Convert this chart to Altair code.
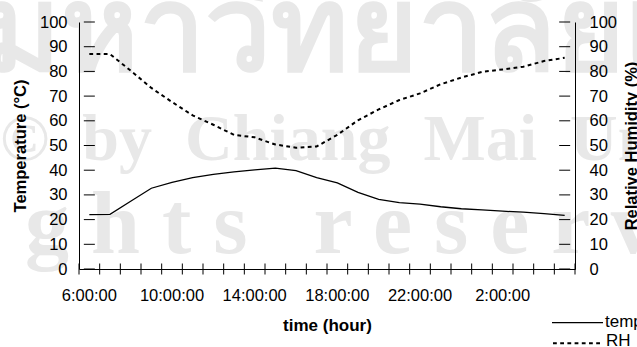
import altair as alt
import pandas as pd

# Hourly readings over one day, 6:00 to 5:00 the next morning
hours = ["6:00:00", "7:00:00", "8:00:00", "9:00:00", "10:00:00", "11:00:00",
         "12:00:00", "13:00:00", "14:00:00", "15:00:00", "16:00:00", "17:00:00",
         "18:00:00", "19:00:00", "20:00:00", "21:00:00", "22:00:00", "23:00:00",
         "0:00:00", "1:00:00", "2:00:00", "3:00:00", "4:00:00", "5:00:00"]
temperature = [22.0, 22.1, 27.4, 32.7, 35.1, 37.0, 38.3, 39.3, 40.1, 40.8, 39.8, 37.0,
               34.9, 31.0, 28.2, 26.9, 26.3, 25.2, 24.4, 23.9, 23.4, 23.0, 22.4, 21.7]
rh = [87.0, 87.0, 80.3, 73.3, 67.6, 62.2, 58.4, 54.3, 53.3, 50.4, 49.1, 49.6,
      54.3, 60.2, 64.6, 68.4, 71.1, 74.8, 77.5, 79.8, 80.8, 81.9, 84.2, 85.5]
label_hours = ["6:00:00", "10:00:00", "14:00:00", "18:00:00", "22:00:00", "2:00:00"]
y_ticks = [0, 10, 20, 30, 40, 50, 60, 70, 80, 90, 100]
series_names = ["temperature", "RH"]

NB = "\u00a0"  # non-breaking space keeps the wide watermark spacing
watermark_lines = ["มหาวิทยาลัยเชียงใหม่",
                   "©" + NB * 2 + "by" + NB * 2 + "Chiang" + NB * 2 + "Mai" + NB * 2 + "University",
                   "g h t s" + NB * 3 + "r e s e r v e d"]

df = pd.DataFrame({"hour": hours, "temperature": temperature, "rh": rh})
FONT = "Liberation Sans"
INK = "#000000"
WM = "#e8e8e8"

xscale = alt.Scale(domain=hours, paddingInner=0, paddingOuter=0)
yscale = alt.Scale(domain=[0, 100], nice=False)

x_axis = alt.Axis(values=label_hours, ticks=False, grid=False, domainColor=INK,
                  labelAngle=0, labelFont=FONT, labelFontSize=16.5, labelColor=INK,
                  labelBaseline="alphabetic", labelPadding=31,
                  title="time (hour)", titleFont=FONT, titleFontSize=17,
                  titleFontWeight="bold", titleColor=INK,
                  titleBaseline="alphabetic", titleY=61, zindex=1)


def xenc(band=0.5):
    return alt.X("hour:N", sort=hours, scale=xscale, axis=x_axis, bandPosition=band)


# Background watermark
wm_base = alt.Chart(pd.DataFrame({"k": [0]}))
wm1 = wm_base.mark_text(text=watermark_lines[0], font="Noto Sans", fontSize=118,
                        fontWeight="bold", color=WM, align="left",
                        baseline="alphabetic").encode(x=alt.value(-96), y=alt.value(48))
wm2 = wm_base.mark_text(text=watermark_lines[1], font="Liberation Serif", fontSize=66,
                        fontWeight="bold", color=WM, align="left",
                        baseline="alphabetic").encode(x=alt.value(-79), y=alt.value(138))
wm3 = wm_base.mark_text(text=watermark_lines[2], font="Liberation Serif", fontSize=88,
                        fontWeight="bold", color=WM, align="left",
                        baseline="alphabetic").encode(x=alt.value(-54), y=alt.value(231))

temp_line = alt.Chart(df).mark_line(color=INK, strokeWidth=1.3).encode(
    x=xenc(),
    y=alt.Y("temperature:Q", scale=yscale,
            axis=alt.Axis(orient="left", values=y_ticks, ticks=False, grid=False,
                          domainColor=INK, labelFont=FONT, labelFontSize=16.5,
                          labelColor=INK, labelPadding=12,
                          title="Temperature (°C)", titleFont=FONT, titleFontSize=16.5,
                          titleFontWeight="bold", titleColor=INK, titleAngle=270,
                          titleBaseline="alphabetic", titleAlign="center",
                          titleX=-54, titleY=123.5, zindex=1)),
)

rh_line = alt.Chart(df).mark_line(color=INK, strokeWidth=2, strokeDash=[3.8, 3.4]).encode(
    x=xenc(),
    y=alt.Y("rh:Q", scale=yscale,
            axis=alt.Axis(orient="right", values=y_ticks, ticks=False, grid=False,
                          domainColor=INK, labelFont=FONT, labelFontSize=16.5,
                          labelColor=INK, labelPadding=14,
                          title="Relative Humidity (%)", titleFont=FONT,
                          titleFontSize=16.5, titleFontWeight="bold", titleColor=INK,
                          titleAngle=270, titleBaseline="alphabetic",
                          titleAlign="center", titleX=61, titleY=123.5, zindex=1)),
)

# Tick marks crossing the axis lines
tick_style = dict(color=INK, opacity=1, thickness=1, size=11)
bottom_ticks = alt.Chart(pd.DataFrame({"hour": hours})).mark_tick(
    orient="vertical", **tick_style).encode(
    x=xenc(0), y=alt.YDatum(0, type="quantitative", scale=yscale, axis=None))
end_tick = alt.Chart(pd.DataFrame({"hour": hours[-1:]})).mark_tick(
    orient="vertical", **tick_style).encode(
    x=xenc(1), y=alt.YDatum(0, type="quantitative", scale=yscale, axis=None))
left_ticks = alt.Chart(pd.DataFrame({"hour": [hours[0]] * len(y_ticks), "v": y_ticks})).mark_tick(
    orient="horizontal", **tick_style).encode(
    x=xenc(0), y=alt.Y("v:Q", scale=yscale, axis=None))
right_ticks = alt.Chart(pd.DataFrame({"hour": [hours[-1]] * len(y_ticks), "v": y_ticks})).mark_tick(
    orient="horizontal", **tick_style).encode(
    x=xenc(1), y=alt.Y("v:Q", scale=yscale, axis=None))

# Legend in the lower right corner
leg = alt.Chart(pd.DataFrame({"name": series_names}))
leg_temp = leg.transform_filter(alt.datum.name == series_names[0])
leg_rh = leg.transform_filter(alt.datum.name == series_names[1])
leg_line1 = leg_temp.mark_rule(color=INK, strokeWidth=1.3).encode(
    x=alt.value(473), x2=alt.value(524), y=alt.value(300.7))
leg_line2 = leg_rh.mark_rule(color=INK, strokeWidth=2, strokeDash=[3.8, 3.4]).encode(
    x=alt.value(474), x2=alt.value(524), y=alt.value(321.3))
leg_text1 = leg_temp.mark_text(font=FONT, fontSize=17, color=INK, align="left",
                               baseline="alphabetic").encode(
    text="name:N", x=alt.value(526), y=alt.value(305))
leg_text2 = leg_rh.mark_text(font=FONT, fontSize=17, color=INK, align="left",
                             baseline="alphabetic").encode(
    text="name:N", x=alt.value(527), y=alt.value(324))

chart = alt.layer(
    wm1, wm2, wm3, temp_line, rh_line, bottom_ticks, end_tick, left_ticks, right_ticks,
    leg_line1, leg_line2, leg_text1, leg_text2,
).resolve_scale(y="independent").properties(
    width=496, height=247,
    autosize=alt.AutoSizeParams(type="none"),
    padding={"left": 79, "top": 22, "right": 62, "bottom": 78},
    background="white",
).configure_view(stroke=None)

chart.save("out.html", embed_options={"renderer": "svg", "actions": False})
